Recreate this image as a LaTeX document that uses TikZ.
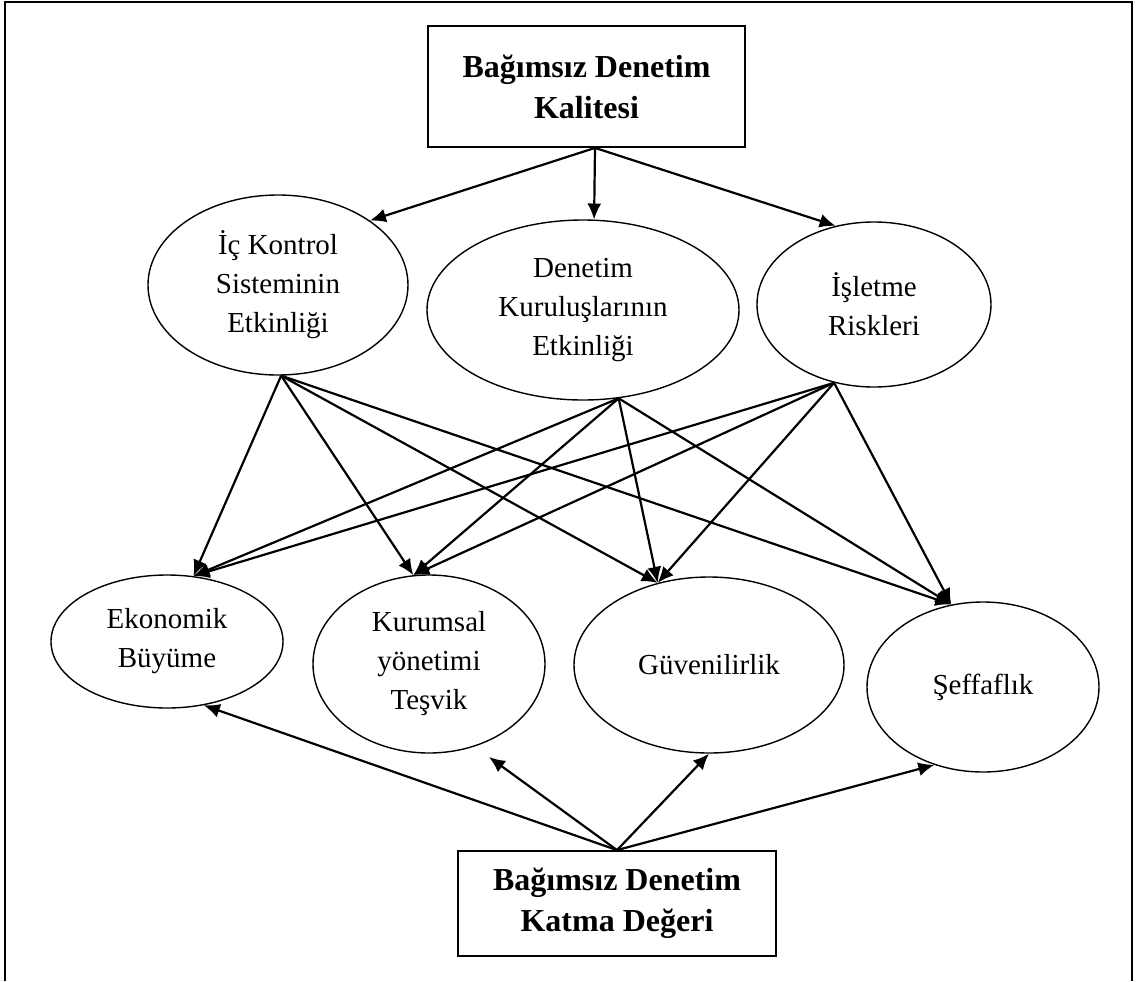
\documentclass[tikz,border=0pt]{standalone}
\usepackage{fontspec}
\setmainfont{Liberation Serif}
\usepackage{tikz}
\usetikzlibrary{positioning,shapes.geometric,arrows.meta}
\tikzstyle{factor} = [draw, ellipse, line width=0.7pt, inner sep=0pt, align=center, font=\fontsize{14.5}{19.5}\selectfont]
\tikzstyle{mainbox} = [draw, rectangle, line width=0.9pt, inner sep=0pt, align=center, font=\fontsize{16}{20.5}\selectfont\bfseries]
\tikzstyle{arr} = [-{Latex[length=8pt,width=7pt]}, line width=1.1pt]

\begin{document}
\begin{tikzpicture}[x=0.5pt,y=-0.5pt]
			\useasboundingbox (0,0) rectangle (1136,981);
			\draw[line width=0.8pt] (5,981) -- (5,2) -- (1132,2) -- (1132,981);
			\node[mainbox, minimum width=158.5pt, minimum height=60.5pt] (kal) at (586.5,86.5) {Bağımsız Denetim\\Kalitesi};
			\node[factor, minimum width=130pt, minimum height=90pt] (ic) at (278,285) {İç Kontrol\\Sisteminin\\Etkinliği};
			\node[factor, minimum width=156pt, minimum height=90pt] (dk) at (583,310) {Denetim\\Kuruluşlarının\\Etkinliği};
			\node[factor, minimum width=117pt, minimum height=82.5pt] (ir) at (874,304.5) {İşletme\\Riskleri};
			\node[factor, minimum width=116pt, minimum height=66.5pt] (eko) at (167,641.5) {Ekonomik\\Büyüme};
			\node[factor, minimum width=116pt, minimum height=89pt] (kur) at (429,664) {Kurumsal\\yönetimi\\Teşvik};
			\node[factor, minimum width=135pt, minimum height=88pt] (guv) at (709,665) {Güvenilirlik};
			\node[factor, minimum width=116pt, minimum height=85pt] (sef) at (983,687) {Şeffaflık};
			\node[mainbox, minimum width=159pt, minimum height=52.5pt] (kd) at (617,903.5) {Bağımsız Denetim\\Katma Değeri};
			\coordinate (kurLow) at (489,757);
			\path[arr] ([xshift=4.25pt]kal.south) edge (ic.35) edge (dk.83) edge (ir.116);
			\path[arr] (ic.-88) edge (eko.68) edge (kur.100) edge (guv.122) edge (sef.111);
			\path[arr] (dk.-68) edge (eko.68) edge (kur.100) edge (guv.122) edge (sef.111);
			\path[arr] (ir.-117) edge (eko.68) edge (kur.100) edge (guv.122) edge (sef.111);
			\path[arr] (kd.north) edge (eko.-60) edge (kurLow) edge (guv.-90) edge (sef.-122);
		\end{tikzpicture}
\end{document}
